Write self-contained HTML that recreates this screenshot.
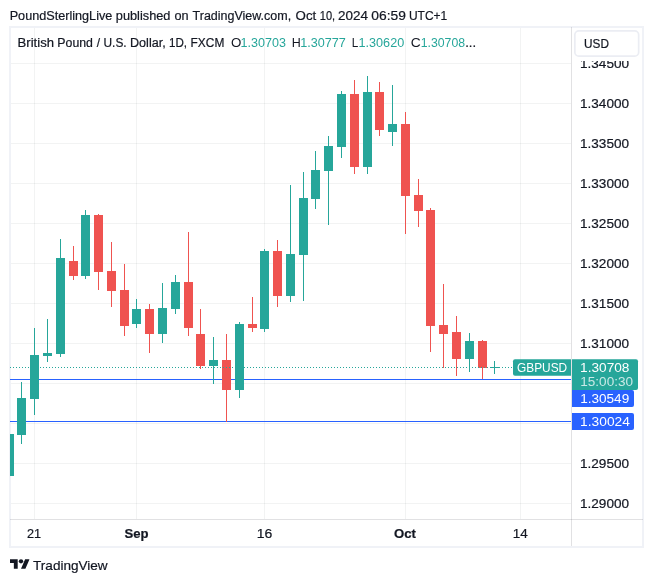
<!DOCTYPE html>
<html lang="en"><head><meta charset="utf-8"><title>GBPUSD chart</title>
<style>html,body{margin:0;padding:0;background:#fff}body{width:653px;height:582px;overflow:hidden}svg{display:block}text{font-family:"Liberation Sans",sans-serif;font-size:12px;fill:#131722}.k{stroke:#131722;stroke-width:.2px}</style>
</head><body>
<svg width="653" height="582" viewBox="0 0 653 582">
<rect width="653" height="582" fill="#fff"/>
<text x="9.67" y="19.6" textLength="102.68" lengthAdjust="spacingAndGlyphs" class="k" style="font-size:12.5px">PoundSterlingLive</text>
<text x="115.85" y="19.6" textLength="54.60" lengthAdjust="spacingAndGlyphs" class="k" style="font-size:12.5px">published</text>
<text x="174.43" y="19.6" textLength="14.09" lengthAdjust="spacingAndGlyphs" class="k" style="font-size:12.5px">on</text>
<text x="192.60" y="19.6" textLength="98.57" lengthAdjust="spacingAndGlyphs" class="k" style="font-size:12.5px">TradingView.com,</text>
<text x="295.59" y="19.6" textLength="20.65" lengthAdjust="spacingAndGlyphs" class="k" style="font-size:12.5px">Oct</text>
<text x="319.81" y="19.6" textLength="15.33" lengthAdjust="spacingAndGlyphs" class="k" style="font-size:12.5px">10,</text>
<text x="337.98" y="19.6" textLength="29.94" lengthAdjust="spacingAndGlyphs" class="k" style="font-size:12.5px">2024</text>
<text x="371.30" y="19.6" textLength="34.58" lengthAdjust="spacingAndGlyphs" class="k" style="font-size:12.5px">06:59</text>
<text x="408.91" y="19.6" textLength="38.30" lengthAdjust="spacingAndGlyphs" class="k" style="font-size:12.5px">UTC+1</text>
<rect x="10" y="27" width="633" height="520" fill="none" stroke="#f0f2f7" stroke-width="2" shape-rendering="crispEdges"/>
<g shape-rendering="crispEdges" fill="rgba(42,46,57,0.06)">
<rect x="11" y="63" width="560" height="1"/>
<rect x="11" y="103" width="560" height="1"/>
<rect x="11" y="143" width="560" height="1"/>
<rect x="11" y="183" width="560" height="1"/>
<rect x="11" y="223" width="560" height="1"/>
<rect x="11" y="263" width="560" height="1"/>
<rect x="11" y="303" width="560" height="1"/>
<rect x="11" y="343" width="560" height="1"/>
<rect x="11" y="383" width="560" height="1"/>
<rect x="11" y="423" width="560" height="1"/>
<rect x="11" y="463" width="560" height="1"/>
<rect x="11" y="503" width="560" height="1"/>
<rect x="34" y="28" width="1" height="491"/>
<rect x="136" y="28" width="1" height="491"/>
<rect x="264" y="28" width="1" height="491"/>
<rect x="405" y="28" width="1" height="491"/>
<rect x="520" y="28" width="1" height="491"/>
</g>
<g shape-rendering="crispEdges" fill="#2962ff">
<rect x="10" y="379" width="561" height="1"/>
<rect x="10" y="421" width="561" height="1"/>
</g>
<g shape-rendering="crispEdges">
<rect x="10" y="434" width="4" height="42" fill="#26a69a"/>
<rect x="21" y="382" width="1" height="62" fill="#26a69a"/>
<rect x="17" y="398" width="9" height="37" fill="#26a69a"/>
<rect x="34" y="328" width="1" height="87" fill="#26a69a"/>
<rect x="30" y="355" width="9" height="44" fill="#26a69a"/>
<rect x="47" y="319" width="1" height="43" fill="#26a69a"/>
<rect x="43" y="353" width="9" height="3" fill="#26a69a"/>
<rect x="60" y="239" width="1" height="118" fill="#26a69a"/>
<rect x="56" y="258" width="9" height="96" fill="#26a69a"/>
<rect x="73" y="246" width="1" height="34" fill="#ef5350"/>
<rect x="69" y="261" width="9" height="15" fill="#ef5350"/>
<rect x="85" y="210" width="1" height="69" fill="#26a69a"/>
<rect x="81" y="215" width="9" height="61" fill="#26a69a"/>
<rect x="98" y="214" width="1" height="76" fill="#ef5350"/>
<rect x="94" y="215" width="9" height="57" fill="#ef5350"/>
<rect x="111" y="242" width="1" height="65" fill="#ef5350"/>
<rect x="107" y="271" width="9" height="20" fill="#ef5350"/>
<rect x="124" y="264" width="1" height="72" fill="#ef5350"/>
<rect x="120" y="290" width="9" height="36" fill="#ef5350"/>
<rect x="136" y="299" width="1" height="29" fill="#26a69a"/>
<rect x="132" y="309" width="9" height="15" fill="#26a69a"/>
<rect x="149" y="304" width="1" height="49" fill="#ef5350"/>
<rect x="145" y="309" width="9" height="25" fill="#ef5350"/>
<rect x="162" y="283" width="1" height="60" fill="#26a69a"/>
<rect x="158" y="308" width="9" height="26" fill="#26a69a"/>
<rect x="175" y="275" width="1" height="39" fill="#26a69a"/>
<rect x="171" y="282" width="9" height="27" fill="#26a69a"/>
<rect x="188" y="232" width="1" height="104" fill="#ef5350"/>
<rect x="184" y="282" width="9" height="46" fill="#ef5350"/>
<rect x="200" y="309" width="1" height="60" fill="#ef5350"/>
<rect x="196" y="334" width="9" height="32" fill="#ef5350"/>
<rect x="213" y="337" width="1" height="47" fill="#26a69a"/>
<rect x="209" y="360" width="9" height="6" fill="#26a69a"/>
<rect x="226" y="334" width="1" height="88" fill="#ef5350"/>
<rect x="222" y="360" width="9" height="30" fill="#ef5350"/>
<rect x="239" y="322" width="1" height="76" fill="#26a69a"/>
<rect x="235" y="324" width="9" height="66" fill="#26a69a"/>
<rect x="252" y="297" width="1" height="35" fill="#ef5350"/>
<rect x="248" y="324" width="9" height="4" fill="#ef5350"/>
<rect x="264" y="249" width="1" height="83" fill="#26a69a"/>
<rect x="260" y="251" width="9" height="78" fill="#26a69a"/>
<rect x="277" y="240" width="1" height="67" fill="#ef5350"/>
<rect x="273" y="251" width="9" height="45" fill="#ef5350"/>
<rect x="290" y="185" width="1" height="117" fill="#26a69a"/>
<rect x="286" y="254" width="9" height="42" fill="#26a69a"/>
<rect x="303" y="172" width="1" height="129" fill="#26a69a"/>
<rect x="299" y="198" width="9" height="57" fill="#26a69a"/>
<rect x="315" y="151" width="1" height="58" fill="#26a69a"/>
<rect x="311" y="170" width="9" height="29" fill="#26a69a"/>
<rect x="328" y="136" width="1" height="89" fill="#26a69a"/>
<rect x="324" y="146" width="9" height="25" fill="#26a69a"/>
<rect x="341" y="91" width="1" height="67" fill="#26a69a"/>
<rect x="337" y="94" width="9" height="53" fill="#26a69a"/>
<rect x="354" y="80" width="1" height="94" fill="#ef5350"/>
<rect x="350" y="94" width="9" height="73" fill="#ef5350"/>
<rect x="367" y="76" width="1" height="98" fill="#26a69a"/>
<rect x="363" y="92" width="9" height="75" fill="#26a69a"/>
<rect x="379" y="82" width="1" height="54" fill="#ef5350"/>
<rect x="375" y="92" width="9" height="38" fill="#ef5350"/>
<rect x="392" y="85" width="1" height="61" fill="#26a69a"/>
<rect x="388" y="124" width="9" height="8" fill="#26a69a"/>
<rect x="405" y="112" width="1" height="122" fill="#ef5350"/>
<rect x="401" y="124" width="9" height="72" fill="#ef5350"/>
<rect x="418" y="179" width="1" height="48" fill="#ef5350"/>
<rect x="414" y="195" width="9" height="16" fill="#ef5350"/>
<rect x="430" y="208" width="1" height="144" fill="#ef5350"/>
<rect x="426" y="210" width="9" height="116" fill="#ef5350"/>
<rect x="443" y="284" width="1" height="84" fill="#ef5350"/>
<rect x="439" y="325" width="9" height="9" fill="#ef5350"/>
<rect x="456" y="316" width="1" height="60" fill="#ef5350"/>
<rect x="452" y="332" width="9" height="27" fill="#ef5350"/>
<rect x="469" y="333" width="1" height="39" fill="#26a69a"/>
<rect x="465" y="341" width="9" height="18" fill="#26a69a"/>
<rect x="482" y="340" width="1" height="39" fill="#ef5350"/>
<rect x="478" y="341" width="9" height="27" fill="#ef5350"/>
<rect x="494" y="361" width="1" height="13" fill="#26a69a"/>
<rect x="490" y="367" width="9" height="1" fill="#26a69a"/>
</g>
<g shape-rendering="crispEdges"><line x1="10" y1="367.5" x2="513" y2="367.5" stroke="#26a69a" stroke-width="1" stroke-dasharray="1 2"/></g>
<g shape-rendering="crispEdges" fill="rgba(42,46,57,0.14)">
<rect x="571" y="27" width="1" height="519"/>
<rect x="10" y="519" width="633" height="1"/>
</g>
<g>
<text x="579.97" y="68" textLength="49.08" lengthAdjust="spacingAndGlyphs" class="k">1.34500</text>
<text x="579.97" y="108" textLength="49.08" lengthAdjust="spacingAndGlyphs" class="k">1.34000</text>
<text x="579.97" y="148" textLength="49.08" lengthAdjust="spacingAndGlyphs" class="k">1.33500</text>
<text x="579.97" y="188" textLength="49.08" lengthAdjust="spacingAndGlyphs" class="k">1.33000</text>
<text x="579.97" y="228" textLength="49.08" lengthAdjust="spacingAndGlyphs" class="k">1.32500</text>
<text x="579.97" y="268" textLength="49.08" lengthAdjust="spacingAndGlyphs" class="k">1.32000</text>
<text x="579.97" y="308" textLength="49.08" lengthAdjust="spacingAndGlyphs" class="k">1.31500</text>
<text x="579.97" y="348" textLength="49.08" lengthAdjust="spacingAndGlyphs" class="k">1.31000</text>
<text x="579.97" y="388" textLength="49.08" lengthAdjust="spacingAndGlyphs" class="k">1.30500</text>
<text x="579.97" y="428" textLength="49.08" lengthAdjust="spacingAndGlyphs" class="k">1.30000</text>
<text x="579.97" y="468" textLength="49.08" lengthAdjust="spacingAndGlyphs" class="k">1.29500</text>
<text x="579.97" y="508" textLength="49.08" lengthAdjust="spacingAndGlyphs" class="k">1.29000</text>
</g>
<rect x="572" y="28" width="70" height="33" fill="#fff"/>
<rect x="574.85" y="30.85" width="63.8" height="25.3" rx="4" ry="4" fill="#fff" stroke="#ebedf3" stroke-width="1.7"/>
<text x="584.08" y="47.7" textLength="24.91" lengthAdjust="spacingAndGlyphs" class="k">USD</text>
<text x="17.57" y="46.9" textLength="36.45" lengthAdjust="spacingAndGlyphs" class="k">British</text>
<text x="57.34" y="46.9" textLength="35.60" lengthAdjust="spacingAndGlyphs" class="k">Pound</text>
<text x="96.70" y="46.9" class="k">/</text>
<text x="103.51" y="46.9" textLength="23.15" lengthAdjust="spacingAndGlyphs" class="k">U.S.</text>
<text x="129.99" y="46.9" textLength="35.72" lengthAdjust="spacingAndGlyphs" class="k">Dollar,</text>
<text x="168.97" y="46.9" textLength="18.03" lengthAdjust="spacingAndGlyphs" class="k">1D,</text>
<text x="190.60" y="46.9" textLength="33.71" lengthAdjust="spacingAndGlyphs" class="k">FXCM</text>
<text x="230.95" y="46.9" textLength="10.36" lengthAdjust="spacingAndGlyphs">O</text>
<text x="240.56" y="46.9" textLength="45.34" lengthAdjust="spacingAndGlyphs" style="fill:#26a69a">1.30703</text>
<text x="291.66" y="46.9" textLength="9.04" lengthAdjust="spacingAndGlyphs">H</text>
<text x="300.17" y="46.9" textLength="45.61" lengthAdjust="spacingAndGlyphs" style="fill:#26a69a">1.30777</text>
<text x="351.83" y="46.9" textLength="6.53" lengthAdjust="spacingAndGlyphs">L</text>
<text x="358.52" y="46.9" textLength="45.70" lengthAdjust="spacingAndGlyphs" style="fill:#26a69a">1.30620</text>
<text x="410.72" y="46.9" textLength="9.99" lengthAdjust="spacingAndGlyphs">C</text>
<text x="420.72" y="46.9" textLength="44.37" lengthAdjust="spacingAndGlyphs" style="fill:#26a69a">1.30708</text>
<text x="465.20" y="46.9" textLength="10.92" lengthAdjust="spacingAndGlyphs" class="k">...</text>
<path d="M515 359.2H571V375.7H515a2 2 0 0 1-2-2V361.2a2 2 0 0 1 2-2z" fill="#26a69a"/>
<text x="517.04" y="371.6" textLength="50.15" lengthAdjust="spacingAndGlyphs" style="fill:#fff">GBPUSD</text>
<path d="M572 359.2H636a2 2 0 0 1 2 2V388a2 2 0 0 1-2 2H572z" fill="#26a69a"/>
<text x="580.14" y="371.6" textLength="49.30" lengthAdjust="spacingAndGlyphs" style="fill:#fff">1.30708</text>
<text x="580.29" y="385.5" textLength="52.77" lengthAdjust="spacingAndGlyphs" style="fill:#fff;fill-opacity:0.75">15:00:30</text>
<path d="M572 390H632a2 2 0 0 1 2 2V405a2 2 0 0 1-2 2H572z" fill="#2962ff"/>
<text x="580.16" y="402.6" textLength="49.03" lengthAdjust="spacingAndGlyphs" style="fill:#fff">1.30549</text>
<path d="M572 413H632a2 2 0 0 1 2 2V428a2 2 0 0 1-2 2H572z" fill="#2962ff"/>
<text x="580.12" y="425.6" textLength="49.74" lengthAdjust="spacingAndGlyphs" style="fill:#fff">1.30024</text>
<text x="26.93" y="537.8" textLength="14.09" lengthAdjust="spacingAndGlyphs" class="k">21</text>
<text x="124.45" y="537.8" textLength="24.04" lengthAdjust="spacingAndGlyphs" class="k" style="font-weight:bold">Sep</text>
<text x="256.72" y="537.8" textLength="15.59" lengthAdjust="spacingAndGlyphs" class="k">16</text>
<text x="394.06" y="537.8" textLength="21.96" lengthAdjust="spacingAndGlyphs" class="k" style="font-weight:bold">Oct</text>
<text x="512.72" y="537.8" textLength="14.99" lengthAdjust="spacingAndGlyphs" class="k">14</text>
<svg x="10" y="557.1" width="19.8" height="14.8" viewBox="0 0 36 28" preserveAspectRatio="none"><path d="M14 22H7V11H0V4h14v18zM28 22h-8l7.500-18h8L28 22z" fill="#131722"/><circle cx="20" cy="8" r="4" fill="#131722"/></svg>
<text x="33.05" y="569.7" textLength="74.62" lengthAdjust="spacingAndGlyphs" class="k" style="font-size:13px">TradingView</text>
</svg>
</body></html>
